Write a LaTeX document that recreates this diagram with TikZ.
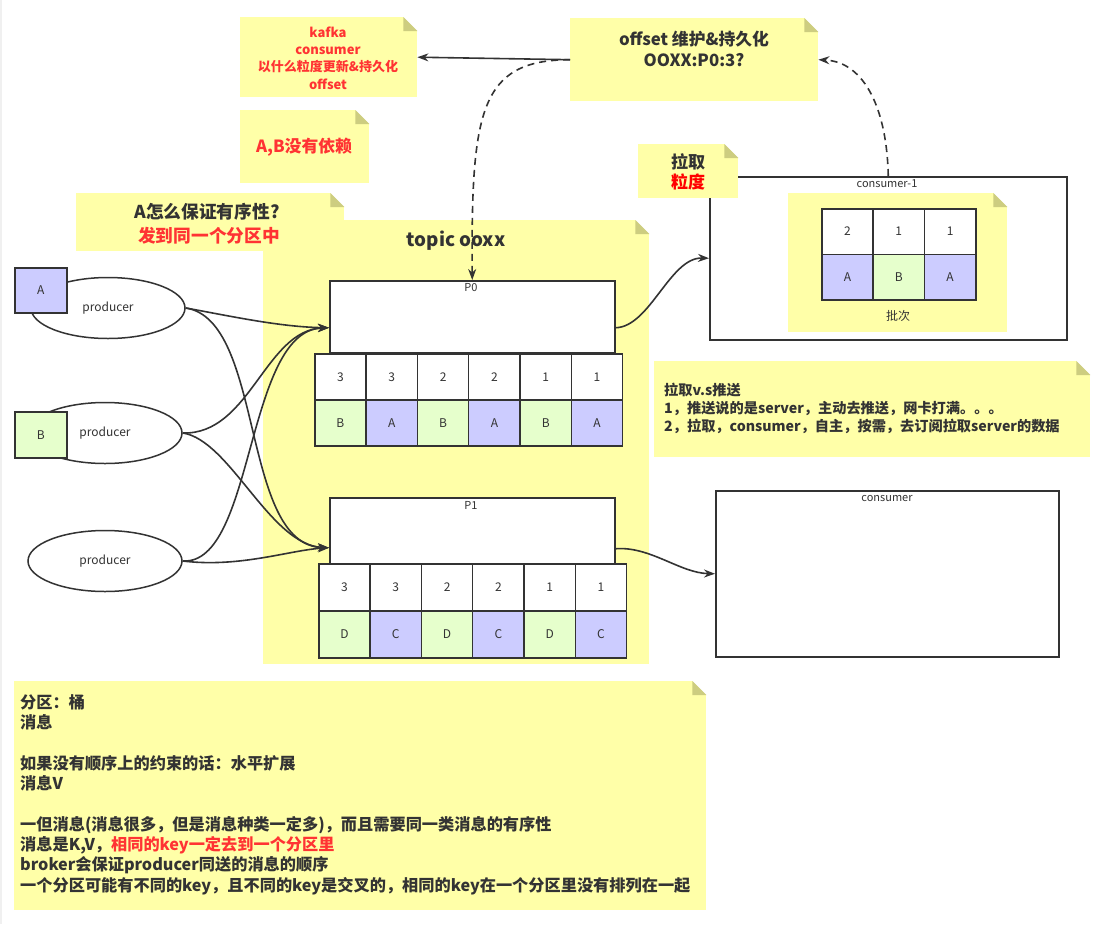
\documentclass[tikz,border=0pt]{standalone}
\usepackage{fontspec}
\setmainfont{Noto Sans CJK SC}
\usetikzlibrary{arrows.meta,shapes.geometric}
\definecolor{noteY}{HTML}{FFFFA8}
\definecolor{noteF}{HTML}{CDCD80}
\definecolor{ink}{HTML}{333333}
\definecolor{redT}{HTML}{FF3333}
\definecolor{redP}{HTML}{FF0000}
\definecolor{cellB}{HTML}{CCCCFF}
\definecolor{cellG}{HTML}{E6FFCC}
\newcommand{\fsz}[2]{\fontsize{#1}{#2}\selectfont}
\newcommand{\foldnote}[1]{%
  \fill[white] ([xshift=-14pt]#1.north east) -- (#1.north east) -- ([yshift=-14pt]#1.north east) -- cycle;
  \fill[noteF] ([xshift=-14pt]#1.north east) -- ([xshift=-14pt,yshift=-14pt]#1.north east) -- ([yshift=-14pt]#1.north east) -- cycle;}
\begin{document}
\begin{tikzpicture}[x=1pt,y=-1pt,
  note/.style={fill=noteY, inner sep=0pt, anchor=north west},
  box/.style={draw=ink, line width=1.5pt, fill=white, anchor=north west, inner sep=0pt},
  cell/.style={draw=ink, line width=1.5pt, anchor=north west, inner sep=0pt, minimum width=51.33pt, minimum height=46pt, font=\fsz{12}{14}, text=ink},
  ell/.style={ellipse, draw=ink, line width=1.5pt, fill=white, inner sep=0pt, minimum width=154pt, minimum height=61pt, font=\fsz{12}{14}, text=ink},
  lbl/.style={inner sep=0pt, text=ink},
  conn/.style={draw=ink, line width=1.6pt, -{Stealth[length=11pt,width=8pt]}},
  dconn/.style={conn, dash pattern=on 7pt off 5pt},
  sline/.style={lbl, anchor=west, font=\bfseries\fsz{16.2}{19}},
  rline/.style={lbl, anchor=west, font=\bfseries\fsz{14.2}{16}}]
\fill[white] (0,0) rectangle (1103,924);
\fill[black!6] (0,0) rectangle (2,924);
\useasboundingbox (0,0) rectangle (1103,924);

% ---- notes ----
\node[note, minimum width=386pt, minimum height=444pt] (topic) at (263,220) {};
\foldnote{topic}
\node[note, minimum width=268pt, minimum height=58pt] (ordnote) at (76,193) {};
\foldnote{ordnote}
\node[note, minimum width=177pt, minimum height=80pt] (kafka) at (240,17) {};
\foldnote{kafka}
\node[note, minimum width=248pt, minimum height=83pt] (offset) at (570,18) {};
\foldnote{offset}
\node[note, minimum width=129pt, minimum height=73pt] (abdep) at (240,110) {};
\foldnote{abdep}
\node[note, minimum width=436pt, minimum height=96pt] (pvp) at (654,361) {};
\foldnote{pvp}
\node[note, minimum width=692pt, minimum height=229pt] (summary) at (14,681) {};
\foldnote{summary}

% ---- consumers ----
\node[box, minimum width=357pt, minimum height=163pt] (c1) at (709,176) {};
\node[note, minimum width=219pt, minimum height=139pt] (batch) at (788,193) {};
\foldnote{batch}
\node[note, minimum width=100pt, minimum height=54pt] (pullg) at (638,144) {};
\foldnote{pullg}
\node[box, minimum width=343pt, minimum height=166pt] (c2) at (715,490) {};

\node[lbl, font=\fsz{11}{13}] (c1t) at (887,184) {consumer-1};
\node[lbl, font=\fsz{11}{13}] (c2t) at (887,498) {consumer};
\foreach \i/\n/\l/\c in {0/2/A/cellB, 1/1/B/cellG, 2/1/A/cellB} {
  \node[cell, fill=white, minimum height=45.5pt] (bn\i) at ({821+\i*51.33},208) {\n};
  \node[cell, fill=\c, minimum height=45.5pt] (bl\i) at ({821+\i*51.33},253.5) {\l};
}
\node[lbl, font=\fsz{12}{14}] (batcht) at (898,316) {批次};

% ---- partitions ----
\node[box, minimum width=285pt, minimum height=72pt] (P0) at (329,280) {};
\node[lbl, font=\fsz{11}{13}] (P0t) at (471,288) {P0};
\foreach \i/\n/\l/\c in {0/3/B/cellG, 1/3/A/cellB, 2/2/B/cellG, 3/2/A/cellB, 4/1/B/cellG, 5/1/A/cellB} {
  \node[cell, fill=white] (p0n\i) at ({314+\i*51.33},353) {\n};
  \node[cell, fill=\c] (p0l\i) at ({314+\i*51.33},399) {\l};
}
\node[box, minimum width=285pt, minimum height=66pt] (P1) at (329,497) {};
\node[lbl, font=\fsz{11}{13}] (P1t) at (471,505) {P1};
\foreach \i/\n/\l/\c in {0/3/D/cellG, 1/3/C/cellB, 2/2/D/cellG, 3/2/C/cellB, 4/1/D/cellG, 5/1/C/cellB} {
  \node[cell, fill=white, minimum height=47pt] (p1n\i) at ({318+\i*51.33},563) {\n};
  \node[cell, fill=\c, minimum height=47pt] (p1l\i) at ({318+\i*51.33},610) {\l};
}

% ---- producers ----
\node[ell] (prodA) at (108,308) {producer};
\node[cell, fill=cellB, minimum width=52pt, minimum height=45pt] (sqA) at (14,267) {A};
\node[ell] (prodB) at (105,433) {producer};
\node[cell, fill=cellG, minimum width=52pt, minimum height=46pt] (sqB) at (14,411) {B};
\node[ell] (prodC) at (105,561) {producer};

% ---- note texts ----
\node[lbl, text=redT, align=center, font=\bfseries\fsz{13}{17.3}] (kafkat) at (328,58) {kafka\\consumer\\以什么粒度更新\&持久化\\offset};
\node[lbl, align=center, font=\bfseries\fsz{16.8}{21}] (offsett) at (694,48.5) {offset 维护\&持久化\\OOXX:P0:3?};
\node[lbl, text=redT, font=\bfseries\fsz{16.8}{20}] (abdept) at (304,147) {A,B没有依赖};
\node[lbl, align=center, font=\bfseries\fsz{17}{20}] (pullgt) at (688,172) {拉取\\\textcolor{redP}{粒度}};
\node[lbl, align=center, font=\bfseries\fsz{17.7}{24}] (ordt) at (207,224) {A怎么保证有序性?\\\textcolor{redT}{\ 发到同一个分区中}};
\node[lbl, font=\bfseries\fsz{18.8}{20}] (topict) at (456,241) {topic ooxx};

\node[rline] (r1) at (664,390.5) {拉取v.s推送};
\node[rline] (r2) at (664,408.5) {1，推送说的是server，主动去推送，网卡打满。。。};
\node[rline] (r3) at (664,426.5) {2，拉取，consumer，自主，按需，去订阅拉取server的数据};

\node[sline] (s1) at (20,702) {分区：桶};
\node[sline] (s2) at (20,722) {消息};
\node[sline] (s3) at (20,763) {如果没有顺序上的约束的话：水平扩展};
\node[sline] (s4) at (20,783) {消息V};
\node[sline] (s5) at (20,825) {一但消息(消息很多，但是消息种类一定多)，而且需要同一类消息的有序性};
\node[sline] (s6) at (20,845) {消息是K,V，\textcolor{redT}{相同的key一定去到一个分区里}};
\node[sline] (s7) at (20,865) {broker会保证producer同送的消息的顺序};
\node[sline] (s8) at (20,886) {一个分区可能有不同的key，且不同的key是交叉的，相同的key在一个分区里没有排列在一起};

% ---- connectors ----
\draw[conn] (prodA.east) .. controls (230,316) and (280,327) .. ([yshift=-11pt]P0.west);
\draw[conn] (prodA.east) .. controls (265,320) and (240,545) .. ([yshift=-17pt]P1.west);
\draw[conn] (prodB.east) .. controls (250,435) and (265,330) .. ([yshift=-11pt]P0.west);
\draw[conn] (prodB.east) .. controls (230,440) and (270,545) .. ([yshift=-17pt]P1.west);
\draw[conn] (prodC.east) .. controls (255,565) and (245,330) .. ([yshift=-11pt]P0.west);
\draw[conn] (prodC.east) .. controls (240,568) and (290,550) .. ([yshift=-17pt]P1.west);
\draw[conn] ([yshift=-11pt]P0.east) .. controls (650,327) and (670,257) .. (c1.west);
\draw[conn] ([yshift=-18pt]P1.east) .. controls (650,546) and (680,573) .. (c2.west);
\draw[conn] (offset.west) -- (kafka.east);
\draw[dconn] (offset.west) .. controls (480,60) and (471,110) .. (P0.north);
\draw[dconn] (c1.north) .. controls (887,110) and (865,62) .. (offset.east);
\end{tikzpicture}
\end{document}
